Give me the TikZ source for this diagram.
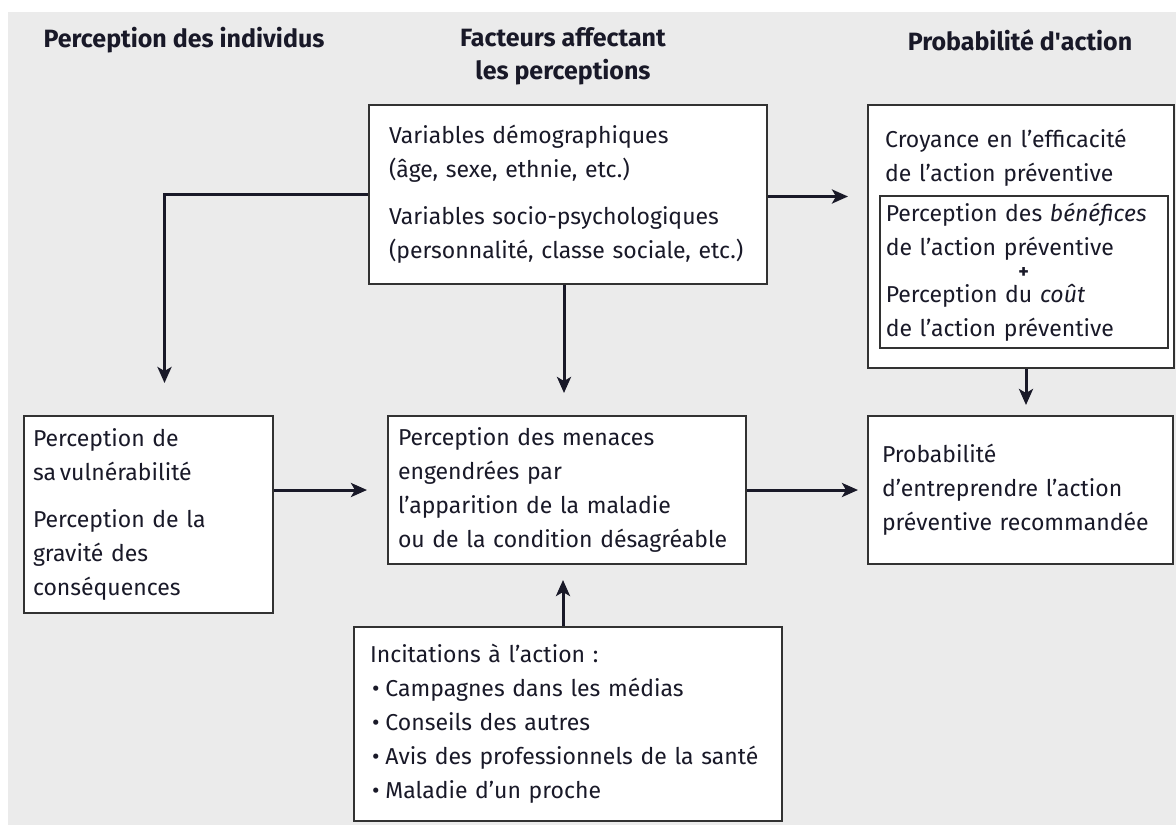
\documentclass[tikz,border=0pt]{standalone}
\usepackage{fontspec}
\setmainfont{Fira Sans}
\usepackage{xcolor}
\definecolor{mygray}{RGB}{235,235,235}
\definecolor{myframe}{RGB}{50,50,50}
\definecolor{myink}{RGB}{25,25,40}
\usetikzlibrary{arrows.meta,positioning}
\tikzstyle{box}=[draw=myframe,line width=2pt,fill=white,anchor=north west,align=left,inner ysep=0pt]

\begin{document}
\begin{tikzpicture}[
  x=1pt, y=-1pt,
  font=\fontsize{23}{34}\selectfont,
  text=myink,
  title/.style={font=\fontsize{25}{33}\selectfont\bfseries, align=center},
  link/.style={draw=myink, line width=3pt, -{Stealth[length=16pt,width=14pt,inset=4pt]}}
]
\useasboundingbox (0,0) rectangle (1176,825);
\fill[mygray] (8,12) rectangle (1176,825);

% column titles
\node[title] (tindiv) at (184,40) {Perception des individus};
\node[title] (tfact) at (563,56) {Facteurs affectant\\les perceptions};
\node[title] (tproba) at (1020,40) {Probabilité d\textquotesingle action};

\node[box, inner xsep=20pt, text width=358pt, minimum height=179pt] (demo) at (368,104)
  {Variables démographiques\\(âge, sexe, ethnie, etc.)\\[13pt]
   Variables socio-psychologiques\\(personnalité, classe sociale, etc.)};

\node[box, inner sep=0pt, minimum width=306pt, minimum height=263pt] (croy) at (867,104) {};
\node[anchor=north west, inner sep=0pt, text width=270pt, align=left] (croytext) at (885,129)
  {Croyance en l’efficacité\\de l’action préventive};
\node[box, line width=1.5pt, inner xsep=6pt, text width=276pt, minimum height=152pt] (benef) at (879,195)
  {Perception des \textit{bénéfices}\\de l’action préventive\\[-11pt]
   \makebox[\linewidth][c]{\fontsize{20}{20}\selectfont\bfseries +}\\[-10pt]
   Perception du \textit{coût}\\de l’action préventive};

\node[box, inner xsep=9pt, text width=231pt, minimum height=197pt] (vuln) at (23,415)
  {Perception de\\sa\,vulnérabilité\\[13pt]
   Perception de la\\gravité des\\conséquences};

\node[box, inner xsep=10pt, text width=338pt, minimum height=148pt] (menace) at (387,415)
  {Perception des menaces\\engendrées par\\l’apparition de la maladie\\ou de la condition désagréable};

\node[box, inner xsep=14pt, text width=277pt, minimum height=148pt] (proba) at (867,415)
  {Probabilité\\d’entreprendre l’action\\préventive recommandée};

\node[box, inner xsep=16pt, text width=396pt, minimum height=194pt] (incit) at (353,626)
  {Incitations à l’action :\\
   \hspace{2pt}\textbullet\hspace{6pt}Campagnes dans les médias\\
   \hspace{2pt}\textbullet\hspace{6pt}Conseils des autres\\
   \hspace{2pt}\textbullet\hspace{6pt}Avis des professionnels de la santé\\
   \hspace{2pt}\textbullet\hspace{6pt}Maladie d’un proche};

% connectors
\draw[link, shorten >=32pt] (demo.west) -| ([xshift=16pt]vuln.north);
\draw[link, shorten >=22pt] ([xshift=-4pt]demo.south) -- ([xshift=-4pt]demo.south |- menace.north);
\draw[link, shorten >=19pt] ([yshift=-2pt]demo.east) -- ([yshift=-2pt]demo.east -| croy.west);
\draw[link, shorten >=10pt] ([xshift=5pt]croy.south) -- ([xshift=5pt]croy.south |- proba.north);
\draw[link, shorten >=20pt] (vuln.east |- menace.west) -- (menace.west);
\draw[link, shorten >=9pt] (menace.east) -- (proba.west);
\draw[link, shorten >=15pt] ([xshift=-5pt]incit.north) -- ([xshift=-5pt]incit.north |- menace.south);
\end{tikzpicture}
\end{document}
